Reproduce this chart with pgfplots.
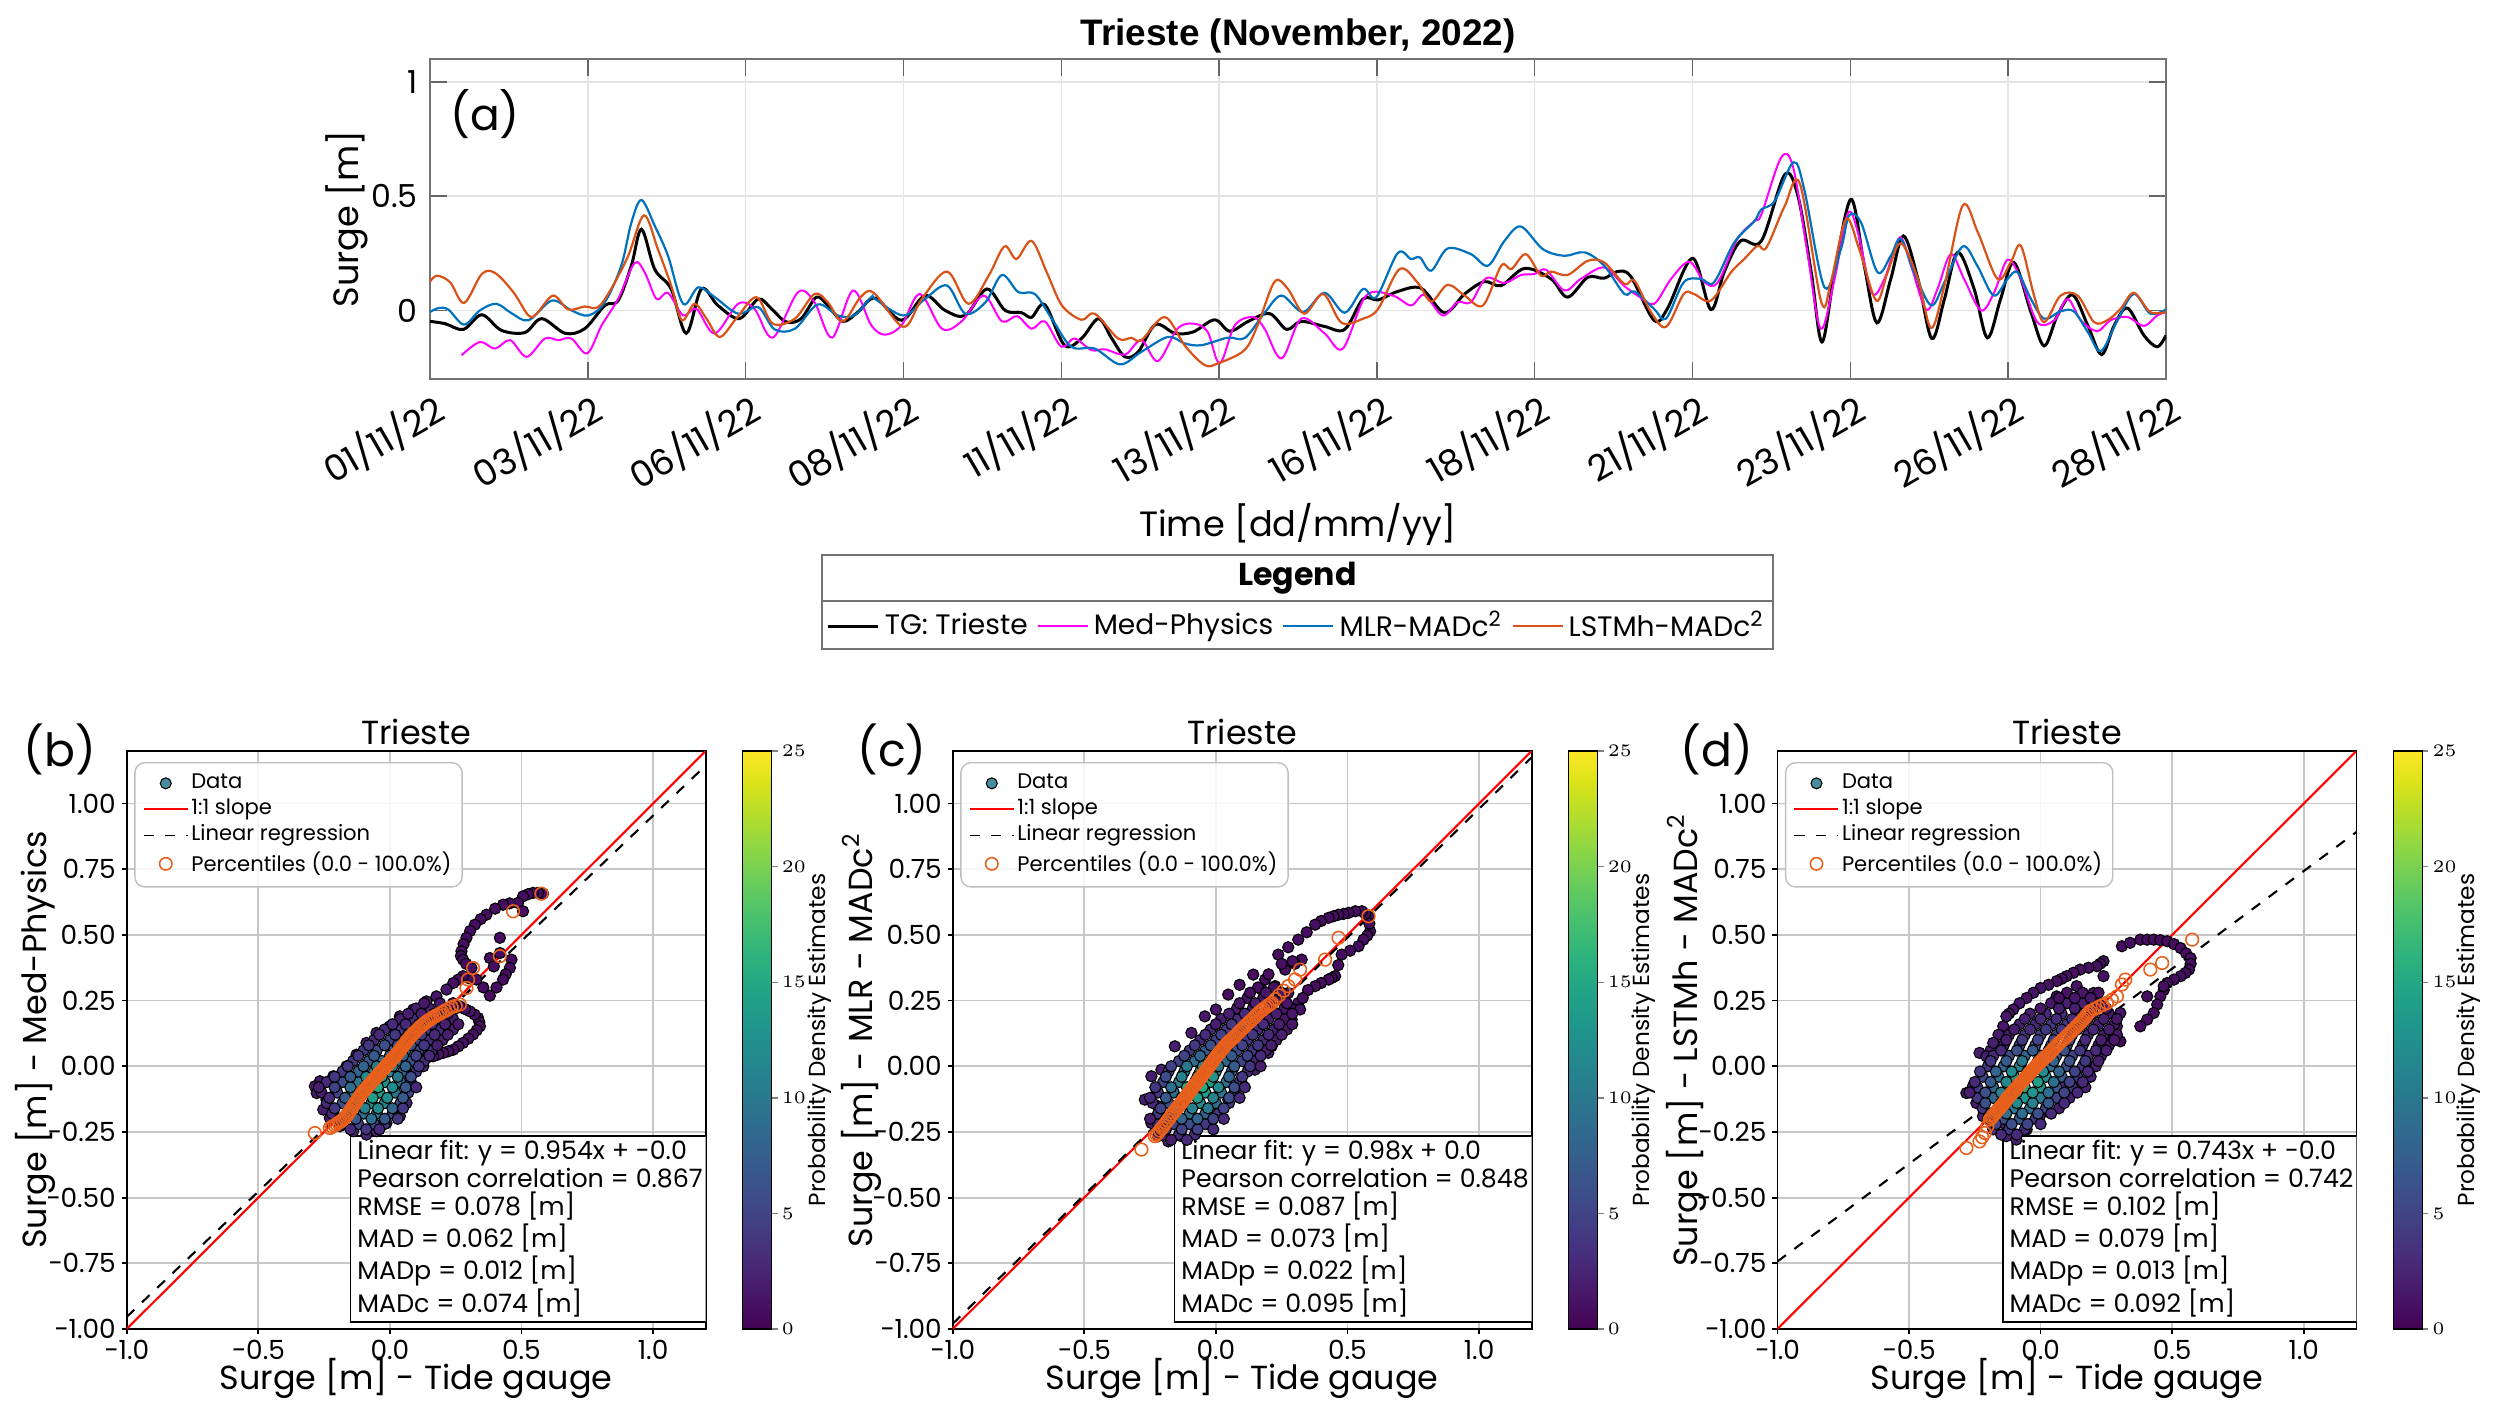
\documentclass[border=0pt]{standalone}
\usepackage{fontspec}
\setmainfont{Poppins}
\newfontfamily\arialfont{Liberation Sans}
\usepackage{pgfplots}
\pgfplotsset{compat=1.18}
\usepgfplotslibrary{colormaps}
\definecolor{cTG}{RGB}{0,0,0}
\definecolor{cMed}{RGB}{255,0,255}
\definecolor{cMLR}{RGB}{0,114,189}
\definecolor{cLSTM}{RGB}{217,83,25}
\definecolor{cPct}{RGB}{232,96,28}
\definecolor{cData}{RGB}{42,120,142}
\definecolor{mgrid}{RGB}{228,228,228}
\newcommand\fsz[2]{\fontsize{#1}{#2}\selectfont}
\pgfplotsset{
 sp/.style={
  scale only axis, width=57.9mm, height=57.8mm, anchor=south west,
  xmin=-1, xmax=1.2, ymin=-1, ymax=1.2,
  xtick={-1,-0.5,0,0.5,1}, xticklabels={−1.0,−0.5,0.0,0.5,1.0},
  ytick={-1,-0.75,-0.5,-0.25,0,0.25,0.5,0.75,1},
  yticklabels={−1.00,−0.75,−0.50,−0.25,0.00,0.25,0.50,0.75,1.00},
  grid=major, major grid style={draw=black!22, line width=0.5pt},
  axis line style={line width=0.5pt},
  tick align=outside, tick pos=left, major tick length=0.5mm,
  tick style={line width=0.5pt, black},
  ticklabel style={font=\fsz{7.5}{9}, inner sep=1.5pt},
  label style={font=\fsz{9.5}{11}},
  xlabel style={at={(axis description cs:0.5,-0.085)}, anchor=center},
  ylabel style={at={(axis description cs:-0.157,0.5)}, anchor=center},
  every axis title shift=0pt,
  title style={font=\fsz{9.5}{11}, at={(0.5,1)}, anchor=base, yshift=0.7mm},
  title={Trieste},
  colormap/viridis, point meta min=0, point meta max=25,
  colorbar,
  colorbar style={at={(parent axis.north east)}, anchor=north west, xshift=0.7mm, width=2.9mm,
    ytick={0,5,10,15,20,25}, yticklabel style={font=\fsz{4.6}{5.5}, inner sep=1pt},
    ytick pos=right, yticklabel pos=right, tick align=outside, major tick length=0.6mm,
    axis line style={line width=0.4pt}, tick style={line width=0.4pt}},
  legend style={at={(0,1)}, anchor=north west, xshift=0.75mm, yshift=-1.1mm,
    draw=black!25, rounded corners=1mm, fill=white, fill opacity=0.85, text opacity=1,
    font=\fsz{6}{6.5}, nodes={inner sep=0.75pt}, inner sep=0.8mm},
  legend cell align=left,
 },
 dots/.style={scatter, only marks, mark=*, mark size=1.6pt, point meta=explicit,
    scatter/use mapped color={draw=black, fill=mapped color}, mark options={line width=0.3pt}},
 pct/.style={only marks, mark=o, mark size=1.8pt, mark options={draw=cPct, line width=0.45pt}},
}
\newcommand\spleg{%
  \addlegendimage{legend image code/.code={\fill[cData,draw=black,line width=0.3pt] (2.2mm,0) circle (0.55mm);}}
  \addlegendentry{Data}
  \addlegendimage{legend image code/.code={\draw[red,line width=0.5pt] (0,0)--(4.4mm,0);}}
  \addlegendentry{1:1 slope}
  \addlegendimage{legend image code/.code={\draw[black,dashed,line width=0.5pt] (0,0)--(4.4mm,0);}}
  \addlegendentry{Linear regression}
  \addlegendimage{legend image code/.code={\draw[cPct,line width=0.45pt] (2.2mm,0) circle (0.62mm);}}
  \addlegendentry{Percentiles (0.0 - 100.0\%)}
}
\begin{document}
\begin{tikzpicture}
\useasboundingbox (0,0) rectangle (249.3mm,141.6mm);
%================ TOP TIME SERIES =================
\begin{axis}[
  at={(43.0mm,103.7mm)}, anchor=south west,
  scale only axis, width=173.6mm, height=32.0mm,
  xmin=0, xmax=27.5, ymin=-0.3, ymax=1.1,
  xtick={0,2.5,5,7.5,10,12.5,15,17.5,20,22.5,25,27.5},
  xticklabels={01/11/22,03/11/22,06/11/22,08/11/22,11/11/22,13/11/22,16/11/22,18/11/22,21/11/22,23/11/22,26/11/22,28/11/22},
  ytick={0,0.5,1}, yticklabels={0,0.5,1},
  grid=major, major grid style={draw=mgrid, line width=0.4pt},
  axis line style={draw=black!55, line width=0.5pt},
  tick align=inside, tick style={draw=black!60, line width=0.4pt}, major tick length=1.7mm,
  xticklabel style={rotate=30, anchor=north east, font=\fsz{10.2}{11}, xshift=0.8mm, yshift=0.3mm},
  yticklabel style={font=\fsz{9}{10}},
  xlabel={Time [dd/mm/yy]}, ylabel={Surge [m]},
  label style={font=\fsz{10}{12}},
  xlabel style={at={(axis description cs:0.5,-0.455)}, anchor=center},
  ylabel style={at={(axis description cs:-0.048,0.5)}, anchor=center},
  legend columns=4,
  legend style={at={(axis description cs:0.5,-0.772)}, anchor=center, draw=none, fill=none,
     font=\fsz{8}{9}, nodes={inner sep=0.5mm}, /tikz/every even column/.append style={column sep=0.4mm}, inner sep=0.2mm},
  legend image code/.code={\draw[#1] (0mm,0mm) -- (5mm,0mm);},
]
\addplot[cTG, line width=0.3mm, smooth, tension=0.55] coordinates {
(0,-0.048) (0.24,-0.058) (0.53,-0.083) (0.82,-0.019) (1.13,-0.087) (1.50,-0.097) (1.77,-0.036)
(2.14,-0.10) (2.45,-0.08) (2.77,0.022) (2.98,0.043) (3.19,0.196) (3.35,0.355) (3.56,0.18)
(3.82,0.094) (4.06,-0.10) (4.30,0.094) (4.56,0.022) (4.90,-0.036) (5.20,0.05) (5.41,0.007)
(5.64,-0.05) (5.88,-0.036) (6.12,0.058) (6.30,0.022) (6.54,-0.048) (6.78,-0.007) (7.05,0.054)
(7.47,-0.043) (7.84,0.065) (8.16,0) (8.48,-0.022) (8.82,0.094) (9.11,0) (9.37,-0.01) (9.53,-0.03)
(9.74,0.025) (10.05,-0.152) (10.32,-0.123) (10.59,-0.036) (10.80,-0.123) (11.01,-0.203)
(11.22,-0.181) (11.49,-0.062) (11.80,-0.10) (12.09,-0.094) (12.43,-0.041) (12.67,-0.091)
(12.96,-0.048) (13.30,-0.014) (13.57,-0.083) (13.80,-0.048) (14.17,-0.07) (14.49,-0.083)
(14.78,0.05) (15.02,0.046) (15.33,0.083) (15.70,0.097) (16.07,-0.01) (16.39,0.072) (16.70,0.126)
(16.97,0.109) (17.34,0.184) (17.76,0.138) (18.02,0.058) (18.34,0.145) (18.60,0.141) (18.81,0.17)
(19.02,0.149) (19.39,-0.043) (19.60,0.007) (20.00,0.228) (20.29,0.004) (20.50,0.167)
(20.76,0.304) (21.09,0.304) (21.46,0.594) (21.67,0.50) (21.88,0.167) (22.05,-0.138) (22.25,0.167)
(22.51,0.486) (22.72,0.196) (22.92,-0.054) (23.14,0.138) (23.34,0.326) (23.57,0.138)
(23.79,-0.123) (23.99,0.05) (24.20,0.254) (24.46,0.094) (24.67,-0.12) (24.88,0.05) (25.09,0.21)
(25.36,-0.007) (25.57,-0.155) (25.78,-0.022) (26.02,0.068) (26.26,-0.065) (26.48,-0.193)
(26.68,-0.065) (26.89,0.01) (27.15,-0.109) (27.36,-0.159) (27.5,-0.109)};
\addlegendentry{TG: Trieste}
\addplot[cMed, line width=0.2mm, smooth, tension=0.55] coordinates {
(0.50,-0.196) (0.79,-0.138) (1.03,-0.167) (1.27,-0.13) (1.53,-0.203) (1.82,-0.123) (2.03,-0.13)
(2.24,-0.123) (2.49,-0.188) (2.72,-0.065) (2.98,0.05) (3.24,0.207) (3.40,0.167) (3.59,0.05)
(3.77,0.077) (4.01,-0.022) (4.22,0.007) (4.51,-0.101) (4.88,0.029) (5.14,0.007) (5.43,-0.119)
(5.83,0.08) (6.09,0.036) (6.37,-0.119) (6.70,0.087) (6.99,-0.065) (7.21,-0.106) (7.47,-0.065)
(7.76,0.072) (8.11,-0.08) (8.42,-0.048) (8.77,0.065) (9.06,-0.048) (9.30,-0.025) (9.53,-0.08)
(9.74,-0.048) (10.00,-0.159) (10.21,-0.123) (10.48,-0.174) (10.69,-0.17) (11.01,-0.193)
(11.27,-0.13) (11.53,-0.222) (11.84,-0.08) (12.10,-0.058) (12.32,-0.094) (12.51,-0.232)
(12.75,-0.065) (13.04,-0.029) (13.22,-0.08) (13.49,-0.21) (13.80,-0.036) (14.17,-0.10)
(14.46,-0.167) (14.83,0.065) (15.25,0.065) (15.54,0.022) (15.75,0.068) (16.04,-0.022)
(16.28,0.036) (16.49,0.036) (16.73,0.141) (17.02,0.12) (17.28,0.155) (17.49,0.159) (17.68,0.178)
(17.97,0.087) (18.23,0.138) (18.60,0.188) (18.91,0.109) (19.13,0.065) (19.39,0.029) (19.66,0.138)
(19.95,0.213) (20.19,0.123) (20.40,0.123) (20.71,0.312) (20.98,0.391) (21.09,0.42) (21.40,0.667)
(21.59,0.63) (21.82,0.254) (22.03,-0.08) (22.25,0.138) (22.46,0.425) (22.62,0.341) (22.84,0.077)
(23.04,0.138) (23.28,0.319) (23.46,0.196) (23.70,0.004) (23.88,0.094) (24.09,0.246) (24.30,0.138)
(24.57,0) (24.78,0.08) (24.99,0.222) (25.20,0.138) (25.46,-0.051) (25.73,-0.043) (25.94,0.05)
(26.15,-0.043) (26.41,-0.091) (26.62,-0.043) (26.89,-0.029) (27.15,-0.068) (27.36,-0.022)
(27.5,-0.007)};
\addlegendentry{Med-Physics}
\addplot[cMLR, line width=0.22mm, smooth, tension=0.55] coordinates {
(0,-0.007) (0.13,0.01) (0.29,0.004) (0.54,-0.062) (0.79,0) (1.05,0.029) (1.29,-0.012) (1.56,-0.043)
(1.93,0.043) (2.24,0) (2.51,-0.022) (2.77,0.036) (3.03,0.196) (3.19,0.384) (3.35,0.483) (3.56,0.37)
(3.77,0.239) (4.01,0.029) (4.25,0.101) (4.51,0.058) (4.88,-0.014) (5.20,0.014) (5.46,-0.083)
(5.78,-0.08) (6.14,0.026) (6.46,-0.022) (6.72,-0.022) (6.99,0.058) (7.05,0.05) (7.50,-0.022)
(7.84,0.05) (8.19,0.109) (8.48,-0.014) (8.80,0.036) (9.06,0.155) (9.32,0.08) (9.58,0.072)
(9.85,-0.036) (10.16,-0.159) (10.53,-0.167) (10.93,-0.236) (11.27,-0.181) (11.69,-0.116)
(11.96,-0.145) (12.22,-0.152) (12.64,-0.119) (12.91,-0.12) (13.23,-0.007) (13.49,0.065)
(13.83,-0.007) (14.17,0.077) (14.49,-0.01) (14.78,0.094) (14.99,0.058) (15.33,0.251) (15.54,0.225)
(15.68,0.232) (15.86,0.174) (16.12,0.271) (16.49,0.246) (16.76,0.196) (17.02,0.304) (17.28,0.367)
(17.63,0.268) (17.97,0.239) (18.29,0.254) (18.60,0.196) (18.92,0.072) (19.08,0.083) (19.39,0.007)
(19.58,-0.036) (19.86,0.123) (20.13,0.138) (20.34,0.123) (20.66,0.297) (20.98,0.391) (21.09,0.442)
(21.30,0.478) (21.60,0.648) (21.77,0.529) (22.09,0.101) (22.35,0.268) (22.48,0.416) (22.67,0.384)
(22.93,0.167) (23.14,0.239) (23.30,0.312) (23.51,0.167) (23.78,0.022) (23.99,0.123) (24.28,0.28)
(24.51,0.196) (24.77,0.065) (24.99,0.138) (25.15,0.167) (25.36,0.05) (25.57,-0.036) (25.83,-0.004)
(26.04,-0.004) (26.26,-0.094) (26.47,-0.178) (26.73,-0.043) (26.99,0.072) (27.25,-0.014)
(27.5,0.004)};
\addlegendentry{MLR-MADc\textsuperscript{2}}
\addplot[cLSTM, line width=0.22mm, smooth, tension=0.55] coordinates {
(0,0.126) (0.11,0.152) (0.32,0.123) (0.54,0.033) (0.82,0.159) (1.03,0.164) (1.32,0.08) (1.56,-0.022)
(1.69,-0.014) (1.95,0.065) (2.19,0.004) (2.45,0.017) (2.66,0.014) (2.87,0.094) (3.14,0.239)
(3.39,0.416) (3.61,0.268) (3.82,0.109) (3.99,-0.043) (4.19,0.029) (4.38,-0.036) (4.59,-0.116)
(4.85,-0.036) (5.17,0.058) (5.43,-0.058) (5.78,-0.036) (6.09,0.072) (6.30,0.036) (6.54,-0.048)
(6.82,0.058) (7.03,0.077) (7.50,-0.072) (7.79,0.05) (8.19,0.17) (8.53,0.029) (8.85,0.152)
(9.10,0.28) (9.29,0.225) (9.53,0.304) (9.77,0.167) (10.01,0.022) (10.32,-0.041) (10.53,-0.014)
(10.90,-0.123) (11.11,-0.12) (11.27,-0.13) (11.64,-0.029) (11.96,-0.155) (12.27,-0.239)
(12.48,-0.232) (12.90,-0.174) (13.11,-0.065) (13.38,0.126) (13.59,0.094) (13.85,-0.014)
(14.15,0.072) (14.44,-0.054) (14.78,-0.036) (15.02,0.007) (15.36,0.181) (15.65,0.12) (15.86,0.039)
(16.12,0.112) (16.39,0.065) (16.68,0.022) (16.97,0.196) (17.13,0.181) (17.36,0.246) (17.60,0.152)
(17.76,0.17) (18.02,0.155) (18.34,0.217) (18.60,0.21) (18.92,0.116) (19.08,0.13) (19.34,-0.007)
(19.58,-0.072) (19.86,0.072) (20.02,0.072) (20.29,0.043) (20.61,0.167) (20.82,0.225) (21.03,0.283)
(21.17,0.275) (21.46,0.457) (21.70,0.555) (22.04,0.036) (22.19,0.123) (22.43,0.399) (22.64,0.268)
(22.91,0.043) (23.09,0.167) (23.30,0.294) (23.57,0.138) (23.78,-0.077) (23.99,0.109) (24.28,0.459)
(24.52,0.341) (24.83,0.138) (25.04,0.21) (25.20,0.283) (25.41,0.065) (25.57,-0.051) (25.83,0.065)
(26.10,0.065) (26.36,-0.051) (26.57,-0.043) (26.78,0.007) (26.99,0.077) (27.25,-0.007)
(27.5,-0.007)};
\addlegendentry{LSTMh-MADc\textsuperscript{2}}
\end{axis}
\node[font=\arialfont\bfseries\fsz{10.5}{12}] at (129.8mm,138.0mm) {Trieste (November, 2022)};
\node[font=\fsz{12.5}{14}] at (48.5mm,130.2mm) {(a)};
\draw[black!55, line width=0.5pt] (82.2mm,76.7mm) rectangle (177.3mm,86.1mm);
\draw[black!55, line width=0.5pt] (82.2mm,81.5mm) -- (177.3mm,81.5mm);
\node[font=\bfseries\fsz{9}{10}] at (129.75mm,83.8mm) {Legend};
%================ PANEL (b) =================
\begin{axis}[sp, at={(12.67mm,8.7mm)},
  xlabel={Surge [m] - Tide gauge}, ylabel={Surge [m] - Med-Physics}]
\spleg
\addplot[dots, forget plot] table[meta=d] {
x y d
0.582 0.657 0.8
0.563 0.660 0.8
0.544 0.660 0.8
0.525 0.655 0.8
0.506 0.647 0.8
0.487 0.622 0.8
0.506 0.590 0.8
0.455 0.620 0.8
0.430 0.615 0.8
0.400 0.600 0.8
0.367 0.577 0.8
0.345 0.560 0.8
0.323 0.539 0.8
0.305 0.515 0.8
0.291 0.489 0.8
0.280 0.465 0.8
0.272 0.438 0.8
0.270 0.420 0.8
0.278 0.406 0.8
0.290 0.390 0.8
0.310 0.374 0.8
0.380 0.412 0.8
0.395 0.380 0.8
0.418 0.489 0.8
0.418 0.431 0.8
0.462 0.406 0.8
0.456 0.374 0.8
0.440 0.350 0.8
0.430 0.330 0.8
0.405 0.300 0.8
0.380 0.269 0.8
0.355 0.300 0.8
0.329 0.330 0.8
0.300 0.335 0.8
0.278 0.343 0.8
0.260 0.330 1
0.241 0.317 1
0.335 0.184 1
0.340 0.168 1
0.342 0.152 1
0.330 0.137 1
0.316 0.121 1
0.298 0.105 1
0.278 0.089 1
0.260 0.076 1
0.241 0.063 1
0.222 0.057 1
0.203 0.051 1
0.184 0.045 1.2
0.165 0.038 1.2
0.146 0.035 1.4
0.127 0.032 1.5
0.322 0.197 1.1
0.304 0.209 1.2
0.285 0.218 1.3
0.266 0.228 1.5
0.139 0.247 1.5
0.177 0.266 1.5
0.215 0.292 1.5
0.089 0.216 1.5
0.038 0.190 1.5
0.000 0.152 1.8
-0.051 0.127 1.8
-0.089 0.089 2
-0.127 0.044 2
-0.165 0.000 2
-0.215 -0.038 2
-0.266 -0.057 1.5
-0.285 -0.076 1.5
-0.278 -0.102 1.5
-0.241 -0.127 2
-0.253 -0.165 2
-0.228 -0.197 2
-0.190 -0.228 2.5
-0.139 -0.247 2.5
-0.089 -0.260 2.5
-0.051 -0.247 2.5
-0.013 -0.216 2.5
0.038 -0.190 2
0.063 -0.140 2.5
0.089 -0.076 2.5
0.076 -0.032 3
0.127 0.000 2.5
0.177 0.089 2
0.228 0.152 1.5
0.203 0.203 2
-0.18 -0.22 3
-0.12 -0.22 5
-0.06 -0.22 6
-0.02 -0.22 4
-0.22 -0.18 3
-0.16 -0.18 6
-0.10 -0.18 9
-0.05 -0.18 10
0.01 -0.18 6
-0.24 -0.14 3
-0.18 -0.14 6
-0.12 -0.14 10
-0.07 -0.14 12
-0.02 -0.14 11
0.04 -0.14 6
-0.26 -0.10 2
-0.20 -0.10 5
-0.14 -0.10 9
-0.09 -0.10 13
-0.04 -0.10 14
0.02 -0.10 10
0.07 -0.10 5
-0.24 -0.06 3
-0.18 -0.06 6
-0.12 -0.06 10
-0.07 -0.06 13
-0.02 -0.06 13
0.04 -0.06 9
0.08 -0.06 5
-0.18 -0.02 4
-0.12 -0.02 8
-0.06 -0.02 11
0.00 -0.02 12
0.05 -0.02 8
0.10 -0.02 4
-0.14 0.02 4
-0.08 0.02 7
-0.03 0.02 9
0.03 0.02 9
0.08 0.02 6
0.13 0.02 3
-0.10 0.06 4
-0.05 0.06 6
0.01 0.06 7
0.06 0.06 7
0.11 0.06 5
0.16 0.06 3
-0.06 0.10 3
0.00 0.10 5
0.05 0.10 5
0.10 0.10 5
0.15 0.10 3
0.20 0.10 2
-0.02 0.14 3
0.04 0.14 4
0.09 0.14 4
0.14 0.14 4
0.19 0.14 3
0.24 0.14 2
0.04 0.18 2
0.09 0.18 3
0.14 0.18 3
0.19 0.18 2
0.24 0.18 2
0.10 0.22 2
0.15 0.22 2
0.20 0.22 2
0.25 0.22 1.5
-0.15 -0.24 3
-0.09 -0.24 4
-0.04 -0.24 3
-0.19 -0.20 4
-0.13 -0.20 7
-0.07 -0.20 9
-0.02 -0.20 7
0.03 -0.20 4
-0.21 -0.16 4
-0.15 -0.16 8
-0.095 -0.16 11
-0.045 -0.16 12
0.01 -0.16 8
0.05 -0.16 4
-0.23 -0.12 3
-0.17 -0.12 7
-0.115 -0.12 12
-0.065 -0.12 14
-0.01 -0.12 12
0.05 -0.12 7
-0.27 -0.08 2
-0.21 -0.08 5
-0.15 -0.08 9
-0.095 -0.08 14
-0.045 -0.08 15
0.01 -0.08 12
0.06 -0.08 7
0.10 -0.08 3
-0.21 -0.04 4
-0.15 -0.04 7
-0.09 -0.04 12
-0.03 -0.04 13
0.03 -0.04 10
0.08 -0.04 6
-0.16 0.00 4
-0.10 0.00 8
-0.05 0.00 10
0.01 0.00 10
0.06 0.00 8
0.11 0.00 4
-0.12 0.04 4
-0.06 0.04 7
0.00 0.04 8
0.05 0.04 8
0.10 0.04 5
0.15 0.04 3
-0.08 0.08 4
-0.02 0.08 6
0.03 0.08 6
0.08 0.08 6
0.13 0.08 4
0.18 0.08 2
-0.04 0.12 3
0.02 0.12 4
0.07 0.12 5
0.12 0.12 4
0.17 0.12 3
0.22 0.12 2
0.01 0.16 3
0.06 0.16 3
0.11 0.16 4
0.16 0.16 3
0.21 0.16 2
0.26 0.16 1.5
0.07 0.20 2
0.12 0.20 2
0.17 0.20 2
0.22 0.20 2
0.13 0.24 1.5
0.19 0.24 1.5
0.24 0.24 1.5
};
\addplot[red, line width=0.6pt, forget plot] coordinates {(-1,-1) (1.2,1.2)};
\addplot[black, dashed, line width=0.6pt, forget plot] coordinates {(-1,-0.954) (1.2,1.1448)};
\addplot[pct, forget plot] coordinates {
(-0.285,-0.254) (-0.228,-0.235) (-0.21,-0.225) (-0.195,-0.215) (-0.18,-0.205) (-0.165,-0.19)
(-0.155,-0.175) (-0.145,-0.16) (-0.135,-0.145) (-0.125,-0.13) (-0.115,-0.115) (-0.105,-0.10)
(-0.095,-0.09) (-0.085,-0.078) (-0.075,-0.066) (-0.065,-0.055) (-0.055,-0.044) (-0.045,-0.033)
(-0.035,-0.022) (-0.025,-0.011) (-0.015,0.0) (-0.005,0.011) (0.005,0.022) (0.015,0.033)
(0.025,0.045) (0.035,0.057) (0.045,0.07) (0.055,0.083) (0.065,0.096) (0.075,0.108) (0.085,0.12)
(0.095,0.13) (0.11,0.145) (0.125,0.158) (0.14,0.17) (0.155,0.18) (0.17,0.19) (0.19,0.2)
(0.21,0.212) (0.235,0.225) (0.266,0.235) (0.291,0.298) (0.297,0.33) (0.316,0.374) (0.418,0.419)
(0.468,0.59) (0.576,0.657)
(-0.219,-0.23) (-0.2025,-0.22) (-0.1875,-0.21) (-0.1725,-0.1975) (-0.16,-0.1825) (-0.15,-0.1675)
(-0.14,-0.1525) (-0.13,-0.1375) (-0.12,-0.1225) (-0.11,-0.1075) (-0.1,-0.095) (-0.09,-0.084)
(-0.08,-0.072) (-0.07,-0.0605) (-0.06,-0.0495) (-0.05,-0.0385) (-0.04,-0.0275) (-0.03,-0.0165)
(-0.02,-0.0055) (-0.01,0.0055) (0.0,0.0165) (0.01,0.0275) (0.02,0.039) (0.03,0.051) (0.04,0.0635)
(0.05,0.0765) (0.06,0.0895) (0.07,0.102) (0.08,0.114) (0.09,0.125) (0.1025,0.1375) (0.1175,0.1515)
(0.1325,0.164) (0.1475,0.175) (0.1625,0.185) (0.18,0.195) (0.2,0.206) (0.2225,0.2185) (0.25,0.23)};
\node[draw=black, fill=white, line width=0.5pt, align=left, anchor=south east, inner xsep=0.7mm, inner ysep=0.45mm,
  font=\fsz{7.2}{7.97}] at (rel axis cs:1,0) [xshift=0.5mm, yshift=0.6mm]
  {Linear fit: y = 0.954x + -0.0\\Pearson correlation = 0.867\\RMSE = 0.078 [m]\\MAD = 0.062 [m]\\MADp = 0.012 [m]\\MADc = 0.074 [m]};
\end{axis}
%================ PANEL (c) =================
\begin{axis}[sp, at={(95.27mm,8.7mm)},
  xlabel={Surge [m] - Tide gauge}, ylabel={Surge [m] - MLR − MADc\textsuperscript{2}}]
\spleg
\addplot[dots, forget plot] table[meta=d] {
x y d
0.580 0.571 0.8
0.568 0.580 0.8
0.555 0.590 0.8
0.530 0.590 0.8
0.504 0.584 0.8
0.485 0.580 0.8
0.466 0.577 0.8
0.447 0.571 0.8
0.428 0.565 0.8
0.400 0.553 0.8
0.377 0.539 0.8
0.345 0.510 0.8
0.313 0.482 0.8
0.275 0.453 0.8
0.237 0.425 0.8
0.586 0.514 0.8
0.583 0.543 0.8
0.575 0.497 0.8
0.561 0.482 0.8
0.542 0.457 0.8
0.510 0.440 0.8
0.478 0.425 0.8
0.465 0.385 0.8
0.453 0.343 0.8
0.440 0.336 0.8
0.428 0.330 0.8
0.400 0.317 0.8
0.377 0.305 0.8
0.350 0.290 0.8
0.326 0.406 0.8
0.300 0.390 0.8
0.291 0.400 1
0.263 0.368 1
0.313 0.241 1
0.330 0.260 1
0.301 0.216 1
0.142 0.349 0.8
0.047 0.273 0.8
0.090 0.310 0.8
0.187 0.330 1
0.200 0.350 1
0.250 0.390 1
0.174 0.292 1.2
0.225 0.305 1.2
0.275 0.279 1.2
0.000 0.216 1.5
-0.042 0.190 1.5
-0.093 0.127 1.8
-0.156 0.076 2
-0.207 -0.013 2
-0.245 -0.038 2
-0.270 -0.127 2
-0.220 -0.152 2.5
-0.245 -0.216 2
-0.220 -0.266 2
-0.181 -0.286 2
-0.131 -0.266 2.5
-0.067 -0.228 2.5
-0.004 -0.190 2.5
0.047 -0.127 2.5
0.098 -0.063 2.5
0.148 -0.013 2
0.199 0.051 2
0.212 0.076 2
0.225 0.114 1.8
0.250 0.140 1.5
0.288 0.178 1.5
0.320 0.216 1.2
-0.20 -0.26 2
-0.14 -0.26 3
-0.08 -0.26 3
-0.22 -0.22 3
-0.16 -0.22 5
-0.10 -0.22 6
-0.04 -0.22 4
-0.22 -0.18 4
-0.16 -0.18 7
-0.10 -0.18 9
-0.04 -0.18 8
0.01 -0.18 4
-0.24 -0.14 3
-0.18 -0.14 6
-0.12 -0.14 11
-0.06 -0.14 12
0.00 -0.14 9
0.05 -0.14 4
-0.22 -0.10 4
-0.16 -0.10 9
-0.10 -0.10 14
-0.04 -0.10 14
0.02 -0.10 10
0.07 -0.10 5
-0.20 -0.06 5
-0.14 -0.06 10
-0.08 -0.06 15
-0.02 -0.06 14
0.04 -0.06 9
0.09 -0.06 4
-0.18 -0.02 5
-0.12 -0.02 10
-0.06 -0.02 13
0.00 -0.02 12
0.06 -0.02 7
0.12 -0.02 3
-0.14 0.02 5
-0.08 0.02 9
-0.02 0.02 10
0.04 0.02 8
0.10 0.02 5
0.15 0.02 3
-0.10 0.06 4
-0.04 0.06 7
0.02 0.06 7
0.08 0.06 6
0.14 0.06 4
0.19 0.06 2
-0.06 0.10 3
0.00 0.10 5
0.06 0.10 5
0.12 0.10 4
0.18 0.10 3
0.23 0.10 2
-0.02 0.14 3
0.04 0.14 4
0.10 0.14 4
0.16 0.14 3
0.22 0.14 2
0.27 0.14 1.5
0.02 0.18 2
0.08 0.18 3
0.14 0.18 3
0.20 0.18 2
0.26 0.18 1.5
0.08 0.22 2
0.14 0.22 2
0.20 0.22 2
0.26 0.22 1.5
0.12 0.26 1.5
0.18 0.26 1.5
0.24 0.26 1.5
0.16 0.30 1
0.22 0.30 1
-0.17 -0.28 2
-0.11 -0.28 3
-0.19 -0.24 3
-0.13 -0.24 5
-0.07 -0.24 5
-0.01 -0.24 3
-0.25 -0.20 2
-0.19 -0.20 5
-0.13 -0.20 8
-0.07 -0.20 8
-0.01 -0.20 5
0.03 -0.20 3
-0.21 -0.16 5
-0.15 -0.16 9
-0.09 -0.16 11
-0.03 -0.16 10
0.03 -0.16 5
-0.25 -0.12 3
-0.19 -0.12 7
-0.13 -0.12 12
-0.07 -0.12 14
-0.01 -0.12 11
0.05 -0.12 6
0.09 -0.12 3
-0.23 -0.08 4
-0.17 -0.08 9
-0.11 -0.08 15
-0.05 -0.08 15
0.01 -0.08 12
0.07 -0.08 6
0.11 -0.08 3
-0.19 -0.04 6
-0.13 -0.04 11
-0.07 -0.04 14
-0.01 -0.04 13
0.05 -0.04 8
0.10 -0.04 4
-0.17 0.00 5
-0.11 0.00 10
-0.05 0.00 11
0.01 0.00 10
0.07 0.00 7
0.13 0.00 4
0.17 0.00 2
-0.12 0.04 5
-0.06 0.04 8
0.00 0.04 9
0.06 0.04 7
0.12 0.04 5
0.17 0.04 3
-0.08 0.08 4
-0.02 0.08 6
0.04 0.08 7
0.10 0.08 5
0.16 0.08 4
0.21 0.08 2
-0.04 0.12 3
0.02 0.12 5
0.08 0.12 5
0.14 0.12 4
0.20 0.12 3
0.25 0.12 2
0.00 0.16 2
0.06 0.16 4
0.12 0.16 4
0.18 0.16 3
0.24 0.16 2
0.29 0.16 1.5
0.05 0.20 2
0.11 0.20 3
0.17 0.20 3
0.23 0.20 2
0.29 0.20 1.5
0.09 0.24 1.5
0.15 0.24 2
0.21 0.24 2
0.27 0.24 1.5
0.13 0.28 1
0.19 0.28 1.5
0.25 0.28 1.5
};
\addplot[red, line width=0.6pt, forget plot] coordinates {(-1,-1) (1.2,1.2)};
\addplot[black, dashed, line width=0.6pt, forget plot] coordinates {(-1,-0.98) (1.2,1.176)};
\addplot[pct, forget plot] coordinates {
(-0.283,-0.317) (-0.232,-0.266) (-0.22,-0.254) (-0.205,-0.235) (-0.19,-0.215) (-0.175,-0.195)
(-0.16,-0.175) (-0.148,-0.16) (-0.138,-0.148) (-0.128,-0.135) (-0.118,-0.122) (-0.108,-0.108)
(-0.098,-0.095) (-0.088,-0.082) (-0.078,-0.069) (-0.068,-0.056) (-0.058,-0.043) (-0.048,-0.03)
(-0.038,-0.017) (-0.028,-0.004) (-0.018,0.01) (-0.008,0.024) (0.002,0.038) (0.012,0.05)
(0.022,0.062) (0.032,0.074) (0.042,0.086) (0.055,0.098) (0.068,0.11) (0.08,0.122) (0.093,0.135)
(0.106,0.148) (0.12,0.162) (0.135,0.175) (0.15,0.19) (0.165,0.205) (0.18,0.218) (0.197,0.23)
(0.212,0.241) (0.24,0.27) (0.275,0.305) (0.301,0.33) (0.32,0.368) (0.415,0.406) (0.466,0.489)
(0.58,0.571)
(-0.226,-0.26) (-0.2125,-0.2445) (-0.1975,-0.225) (-0.1825,-0.205) (-0.168,-0.185) (-0.154,-0.1675)
(-0.143,-0.154) (-0.133,-0.1415) (-0.123,-0.1285) (-0.113,-0.115) (-0.103,-0.1015) (-0.093,-0.0885)
(-0.083,-0.0755) (-0.073,-0.0625) (-0.063,-0.0495) (-0.053,-0.0365) (-0.043,-0.0235) (-0.033,-0.0105)
(-0.023,0.003) (-0.013,0.017) (-0.003,0.031) (0.007,0.044) (0.017,0.056) (0.027,0.068) (0.037,0.08)
(0.0485,0.092) (0.0615,0.104) (0.074,0.116) (0.0865,0.1285) (0.0995,0.1415) (0.113,0.155)
(0.1275,0.1685) (0.1425,0.1825) (0.1575,0.1975) (0.1725,0.2115) (0.1885,0.224) (0.2045,0.2355)
(0.226,0.2555) (0.2575,0.2875)};
\node[draw=black, fill=white, line width=0.5pt, align=left, anchor=south east, inner xsep=0.7mm, inner ysep=0.45mm,
  font=\fsz{7.2}{7.97}] at (rel axis cs:1,0) [xshift=0.5mm, yshift=0.6mm]
  {Linear fit: y = 0.98x + 0.0\\Pearson correlation = 0.848\\RMSE = 0.087 [m]\\MAD = 0.073 [m]\\MADp = 0.022 [m]\\MADc = 0.095 [m]};
\end{axis}
%================ PANEL (d) =================
\begin{axis}[sp, at={(177.74mm,8.7mm)},
  xlabel={Surge [m] - Tide gauge}, ylabel={Surge [m] - LSTMh − MADc\textsuperscript{2}}]
\spleg
\addplot[dots, forget plot] table[meta=d] {
x y d
0.379 0.482 0.8
0.405 0.482 0.8
0.430 0.482 0.8
0.455 0.480 0.8
0.481 0.476 0.8
0.507 0.465 0.8
0.532 0.450 0.8
0.553 0.430 0.8
0.570 0.412 0.8
0.570 0.390 0.8
0.564 0.368 0.8
0.550 0.355 0.8
0.532 0.343 0.8
0.507 0.330 0.8
0.481 0.317 0.8
0.468 0.290 0.8
0.455 0.266 0.8
0.443 0.235 0.8
0.430 0.203 0.8
0.405 0.178 0.8
0.379 0.152 0.8
0.309 0.457 0.8
0.340 0.470 0.8
0.303 0.095 0.8
0.468 0.305 0.8
0.405 0.266 0.8
0.239 0.400 1
0.226 0.390 1
0.214 0.381 1
0.182 0.375 1
0.150 0.368 1
0.125 0.356 1
0.099 0.343 1
0.080 0.333 1
0.061 0.324 1
0.030 0.310 1.1
0.000 0.298 1.2
-0.027 0.280 1.2
-0.053 0.260 1.2
-0.080 0.240 1.3
-0.104 0.216 1.5
-0.120 0.200 1.5
-0.130 0.190 1.5
-0.142 0.152 1.5
-0.160 0.120 1.8
-0.190 0.060 2
0.239 0.343 1.2
0.201 0.279 1.5
0.137 0.305 1.2
0.061 0.266 1.5
-0.180 0.089 2
-0.232 0.051 2
-0.206 0.038 2
-0.257 -0.076 2
-0.282 -0.102 2
-0.244 -0.140 2
-0.219 -0.190 2.5
-0.142 -0.216 2.5
-0.130 -0.266 2
-0.092 -0.279 2
-0.053 -0.241 2.5
-0.003 -0.190 2.5
0.074 -0.114 2.5
0.087 -0.076 2.5
0.150 -0.063 2
0.201 0.000 2
0.226 0.063 2
0.252 0.102 1.8
0.290 0.152 1.5
0.303 0.203 1.5
-0.18 -0.24 3
-0.12 -0.24 4
-0.06 -0.24 3
-0.20 -0.20 4
-0.14 -0.20 6
-0.08 -0.20 7
-0.02 -0.20 4
-0.22 -0.16 4
-0.16 -0.16 7
-0.10 -0.16 10
-0.04 -0.16 9
0.02 -0.16 5
0.07 -0.16 2
-0.24 -0.12 4
-0.18 -0.12 8
-0.12 -0.12 12
-0.06 -0.12 13
0.00 -0.12 10
0.06 -0.12 5
0.11 -0.12 2
-0.24 -0.08 4
-0.18 -0.08 8
-0.12 -0.08 13
-0.06 -0.08 15
0.00 -0.08 13
0.06 -0.08 7
0.12 -0.08 4
0.17 -0.08 2
-0.22 -0.04 5
-0.16 -0.04 9
-0.10 -0.04 13
-0.04 -0.04 14
0.02 -0.04 12
0.08 -0.04 7
0.14 -0.04 4
0.19 -0.04 2
-0.20 0.00 4
-0.14 0.00 8
-0.08 0.00 11
-0.02 0.00 11
0.04 0.00 9
0.10 0.00 6
0.16 0.00 4
0.21 0.00 2
-0.18 0.04 3
-0.12 0.04 6
-0.06 0.04 8
0.00 0.04 8
0.06 0.04 7
0.12 0.04 5
0.18 0.04 3
0.23 0.04 2
-0.14 0.08 3
-0.08 0.08 5
-0.02 0.08 6
0.04 0.08 6
0.10 0.08 5
0.16 0.08 4
0.22 0.08 2
0.26 0.08 1.5
-0.12 0.12 2
-0.06 0.12 4
0.00 0.12 5
0.06 0.12 5
0.12 0.12 4
0.18 0.12 3
0.24 0.12 2
0.29 0.12 1.5
-0.08 0.16 2
-0.02 0.16 3
0.04 0.16 4
0.10 0.16 4
0.16 0.16 3
0.22 0.16 2
0.28 0.16 1.5
-0.04 0.20 2
0.02 0.20 3
0.08 0.20 3
0.14 0.20 3
0.20 0.20 2
0.26 0.20 1.5
0.04 0.24 1.5
0.10 0.24 2
0.16 0.24 2
0.22 0.24 1.5
0.10 0.28 1
0.16 0.28 1.5
0.22 0.28 1
-0.15 -0.26 3
-0.09 -0.26 3
-0.17 -0.22 5
-0.11 -0.22 6
-0.05 -0.22 5
0.00 -0.22 3
-0.19 -0.18 6
-0.13 -0.18 9
-0.07 -0.18 9
-0.01 -0.18 6
0.04 -0.18 3
-0.21 -0.14 6
-0.15 -0.14 10
-0.09 -0.14 12
-0.03 -0.14 11
0.03 -0.14 7
0.09 -0.14 3
-0.27 -0.10 2
-0.21 -0.10 6
-0.15 -0.10 11
-0.09 -0.10 14
-0.03 -0.10 13
0.03 -0.10 9
0.09 -0.10 5
0.14 -0.10 3
-0.25 -0.06 3
-0.19 -0.06 7
-0.13 -0.06 12
-0.07 -0.06 15
-0.01 -0.06 14
0.05 -0.06 9
0.11 -0.06 5
0.16 -0.06 3
-0.23 -0.02 4
-0.17 -0.02 8
-0.11 -0.02 12
-0.05 -0.02 13
0.01 -0.02 12
0.07 -0.02 8
0.13 -0.02 5
0.18 -0.02 3
-0.19 0.02 4
-0.13 0.02 7
-0.07 0.02 10
-0.01 0.02 10
0.05 0.02 8
0.11 0.02 6
0.17 0.02 4
0.22 0.02 2
-0.15 0.06 3
-0.09 0.06 6
-0.03 0.06 7
0.03 0.06 7
0.09 0.06 6
0.15 0.06 4
0.21 0.06 3
0.25 0.06 2
-0.13 0.10 2
-0.07 0.10 4
-0.01 0.10 5
0.05 0.10 5
0.11 0.10 5
0.17 0.10 3
0.23 0.10 2
0.28 0.10 1.5
-0.10 0.14 2
-0.04 0.14 3
0.02 0.14 4
0.08 0.14 4
0.14 0.14 3
0.20 0.14 3
0.26 0.14 2
-0.06 0.18 2
0.00 0.18 3
0.06 0.18 3
0.12 0.18 3
0.18 0.18 2
0.24 0.18 2
0.29 0.18 1.5
0.00 0.22 1.5
0.07 0.22 2
0.13 0.22 2
0.19 0.22 2
0.25 0.22 1.5
0.07 0.26 1
0.13 0.26 1.5
0.19 0.26 1.5
};
\addplot[red, line width=0.6pt, forget plot] coordinates {(-1,-1) (1.2,1.2)};
\addplot[black, dashed, line width=0.6pt, forget plot] coordinates {(-1,-0.743) (1.2,0.8916)};
\addplot[pct, forget plot] coordinates {
(-0.282,-0.311) (-0.232,-0.286) (-0.212,-0.254) (-0.193,-0.203) (-0.182,-0.19) (-0.172,-0.178)
(-0.162,-0.166) (-0.152,-0.155) (-0.141,-0.142) (-0.13,-0.127) (-0.12,-0.115) (-0.11,-0.103)
(-0.1,-0.092) (-0.09,-0.08) (-0.08,-0.069) (-0.07,-0.058) (-0.06,-0.047) (-0.05,-0.036)
(-0.04,-0.025) (-0.03,-0.014) (-0.02,-0.003) (-0.01,0.008) (0.0,0.018) (0.011,0.028)
(0.023,0.038) (0.035,0.05) (0.047,0.063) (0.059,0.076) (0.071,0.089) (0.085,0.101) (0.099,0.114)
(0.112,0.127) (0.125,0.14) (0.138,0.153) (0.151,0.166) (0.164,0.18) (0.176,0.195) (0.188,0.21)
(0.22,0.226) (0.252,0.241) (0.29,0.266) (0.309,0.311) (0.322,0.33) (0.417,0.368) (0.462,0.393)
(0.576,0.482)
(-0.222,-0.27) (-0.2025,-0.2285) (-0.1875,-0.1965) (-0.177,-0.184) (-0.167,-0.172) (-0.157,-0.1605)
(-0.1465,-0.1485) (-0.1355,-0.1345) (-0.125,-0.121) (-0.115,-0.109) (-0.105,-0.0975) (-0.095,-0.086)
(-0.085,-0.0745) (-0.075,-0.0635) (-0.065,-0.0525) (-0.055,-0.0415) (-0.045,-0.0305) (-0.035,-0.0195)
(-0.025,-0.0085) (-0.015,0.0025) (-0.005,0.013) (0.0055,0.023) (0.017,0.033) (0.029,0.044)
(0.041,0.0565) (0.053,0.0695) (0.065,0.0825) (0.078,0.095) (0.092,0.1075) (0.1055,0.1205)
(0.1185,0.1335) (0.1315,0.1465) (0.1445,0.1595) (0.1575,0.173) (0.17,0.1875) (0.182,0.2025)
(0.204,0.218) (0.236,0.2335) (0.271,0.2535)};
\node[draw=black, fill=white, line width=0.5pt, align=left, anchor=south east, inner xsep=0.7mm, inner ysep=0.45mm,
  font=\fsz{7.2}{7.97}] at (rel axis cs:1,0) [xshift=0.5mm, yshift=0.6mm]
  {Linear fit: y = 0.743x + -0.0\\Pearson correlation = 0.742\\RMSE = 0.102 [m]\\MAD = 0.079 [m]\\MADp = 0.013 [m]\\MADc = 0.092 [m]};
\end{axis}
%================ panel letters, colorbar labels =================
\node[font=\fsz{13}{15}] at (6.0mm,66.7mm) {(b)};
\node[font=\fsz{13}{15}] at (89.2mm,66.7mm) {(c)};
\node[font=\fsz{13}{15}] at (171.7mm,66.7mm) {(d)};
\node[font=\fsz{6.6}{8}, rotate=90] at (82.0mm,37.6mm) {Probability Density Estimates};
\node[font=\fsz{6.6}{8}, rotate=90] at (164.4mm,37.6mm) {Probability Density Estimates};
\node[font=\fsz{6.6}{8}, rotate=90] at (246.9mm,37.6mm) {Probability Density Estimates};
\end{tikzpicture}
\end{document}
